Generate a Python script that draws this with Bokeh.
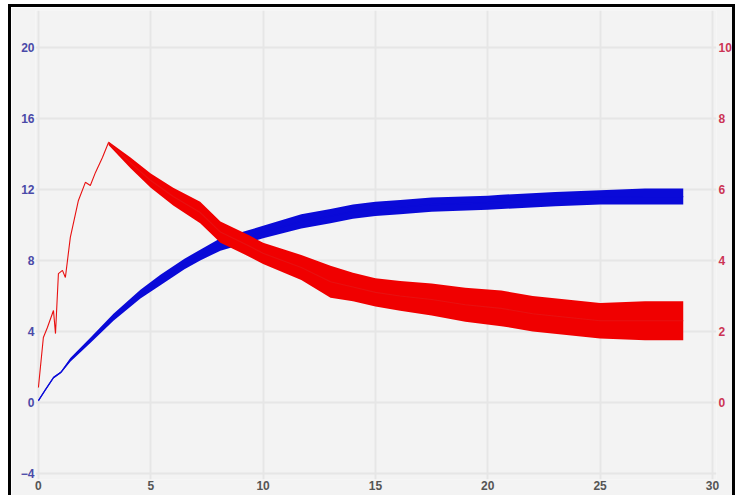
from bokeh.plotting import figure
from bokeh.models import Range1d, LinearAxis, FixedTicker
from bokeh.embed import file_html
from bokeh.resources import INLINE

# ---- data ----
x_ticks = [0, 5, 10, 15, 20, 25, 30]
left_ticks = [-4, 0, 4, 8, 12, 16, 20]
right_ticks = [0, 2, 4, 6, 8, 10]

# blue series (left axis): centre line and envelope of the noisy band
blue_x = [0, 0.3, 0.67, 1.0, 1.42, 2.31, 3.34, 4.54, 5.43, 6.5, 7.2, 8.1, 10.0, 11.7,
          13.0, 14.0, 15.0, 16.1, 17.5, 20.0, 20.6, 23.0, 25.0, 27.0, 28.7]
blue_mid = [0.1, 0.7, 1.4, 1.7, 2.4, 3.5, 4.8, 6.1, 6.9, 7.8, 8.3, 8.9, 9.6, 10.2,
            10.5, 10.75, 10.9, 11.0, 11.15, 11.25, 11.3, 11.45, 11.55, 11.6, 11.6]
blue_hi = [0.15, 0.75, 1.45, 1.75, 2.5, 3.65, 5.0, 6.35, 7.2, 8.1, 8.6, 9.25, 9.95, 10.6,
           10.9, 11.15, 11.3, 11.4, 11.55, 11.65, 11.7, 11.85, 11.95, 12.05, 12.05]
blue_lo = [0.05, 0.65, 1.35, 1.65, 2.3, 3.35, 4.6, 5.85, 6.6, 7.5, 8.0, 8.55, 9.25, 9.8,
           10.1, 10.35, 10.5, 10.6, 10.75, 10.85, 10.9, 11.05, 11.15, 11.15, 11.15]

# red series (right axis): thin rising part, then noisy decaying band
red_x = [0, 0.22, 0.40, 0.67, 0.76, 0.89, 1.07, 1.2, 1.42, 1.78, 2.09, 2.31, 2.54, 2.85,
         3.12, 4.1, 5.0, 6.0, 7.2, 8.1, 9.4, 10.0, 11.7, 13.0, 14.0, 15.0, 16.1, 17.5,
         19.0, 20.6, 22.0, 23.5, 25.0, 27.0, 28.7]
red_mid = [0.42, 1.83, 2.11, 2.59, 1.94, 3.63, 3.72, 3.52, 4.65, 5.69, 6.2, 6.11, 6.48, 6.9,
           7.32, 6.75, 6.25, 5.8, 5.35, 4.8, 4.4, 4.2, 3.8, 3.4, 3.25, 3.1, 3.0, 2.9,
           2.75, 2.65, 2.5, 2.4, 2.3, 2.3, 2.3]
red_band_x = [3.12, 4.1, 5.0, 6.0, 7.2, 8.1, 9.4, 10.0, 11.7, 13.0, 14.0, 15.0, 16.1, 17.5,
              19.0, 20.6, 22.0, 23.5, 25.0, 27.0, 28.7]
red_hi = [7.35, 6.9, 6.45, 6.05, 5.65, 5.1, 4.7, 4.5, 4.15, 3.85, 3.65, 3.5, 3.42, 3.35,
          3.23, 3.15, 3.0, 2.9, 2.8, 2.85, 2.85]
red_lo = [7.25, 6.6, 6.05, 5.55, 5.05, 4.5, 4.1, 3.9, 3.45, 2.95, 2.85, 2.7, 2.58, 2.45,
          2.27, 2.15, 2.0, 1.9, 1.8, 1.75, 1.75]

BG = "#f3f3f3"
FONT = "Liberation Sans"

p = figure(width=721, height=488, output_backend="svg", toolbar_location=None,
           x_range=Range1d(-0.13, 30.18), y_range=Range1d(-4.34, 22.08),
           min_border_left=24, min_border_right=22, min_border_top=3, min_border_bottom=19,
           background_fill_color=BG, border_fill_color=BG, outline_line_color=None)
p.styles = {"box-sizing": "content-box",
            "border-left": "3px solid black", "border-top": "3px solid black",
            "border-right": "3px solid black",
            "margin-left": "8px", "margin-top": "4px"}
p.extra_y_ranges = {"r": Range1d(-2.17, 11.04)}

def style_axis(ax, color, ticks, standoff):
    ax.ticker = FixedTicker(ticks=ticks)
    ax.axis_line_color = None
    ax.major_tick_line_color = None
    ax.minor_tick_line_color = None
    ax.major_tick_out = 0
    ax.major_tick_in = 0
    ax.major_label_text_color = color
    ax.major_label_text_font = FONT
    ax.major_label_text_font_style = "bold"
    ax.major_label_text_font_size = "12px"
    ax.major_label_standoff = standoff

style_axis(p.xaxis[0], "#555555", x_ticks, 1)
style_axis(p.yaxis[0], "#4a4aa8", left_ticks, 1)
raxis = LinearAxis(y_range_name="r")
style_axis(raxis, "#cc3355", right_ticks, 2)
p.add_layout(raxis, "right")

p.xgrid.ticker = FixedTicker(ticks=x_ticks)
p.ygrid.ticker = FixedTicker(ticks=left_ticks)
for g in (p.xgrid[0], p.ygrid[0]):
    g.grid_line_color = "#e6e6e6"
    g.grid_line_width = 2

# blue
p.varea(x=blue_x, y1=blue_lo, y2=blue_hi, fill_color="#0a0ad8")
p.line(blue_x, blue_mid, line_color="#0a0ad8", line_width=1.3)
# red
p.varea(x=red_band_x, y1=red_lo, y2=red_hi, fill_color="#f00000", y_range_name="r")
p.line(red_x, red_mid, line_color="#e81010", line_width=1.1, y_range_name="r")

open("out.html", "w").write(file_html(p, INLINE))
